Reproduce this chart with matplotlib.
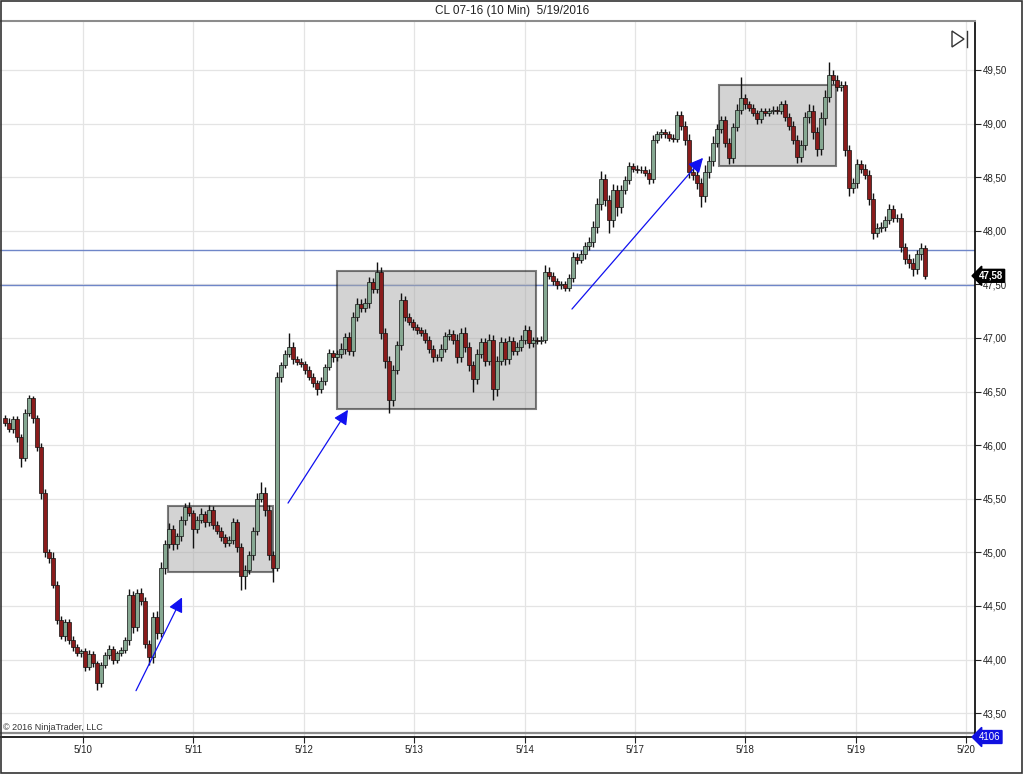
#!/usr/bin/env python3

import matplotlib
matplotlib.use("Agg")
import matplotlib.pyplot as plt
import numpy as np
from matplotlib.patches import Rectangle, Polygon
from matplotlib.lines import Line2D
from matplotlib.transforms import blended_transform_factory

plt.rcParams['font.family'] = ['Liberation Sans', 'DejaVu Sans']

# 10 min CL closes, resampled by eye from the chart (one value per bar step)
closes = [
    46.21, 46.15, 46.24, 46.08, 45.88, 46.30, 46.44, 46.25, 45.98, 45.55,
    45.00, 44.95, 44.70, 44.37, 44.22, 44.35, 44.18, 44.12, 44.06, 44.08,
    43.93, 44.05, 43.97, 43.78, 43.95, 44.04, 44.10, 44.00, 44.06, 44.09,
    44.18, 44.60, 44.30, 44.62, 44.55, 44.15, 44.02, 44.40, 44.25, 44.85,
    45.08, 45.22, 45.08, 45.15, 45.30, 45.42, 45.37, 45.22, 45.30, 45.36,
    45.28, 45.40, 45.26, 45.20, 45.14, 45.09, 45.12, 45.28, 45.05, 44.78,
    44.84, 44.98, 45.20, 45.50, 45.55, 45.40, 44.98, 44.85, 46.64, 46.75,
    46.85, 46.92, 46.80, 46.78, 46.76, 46.70, 46.64, 46.58, 46.52, 46.60,
    46.73, 46.86, 46.82, 46.85, 46.90, 47.01, 46.88, 47.20, 47.32, 47.28,
    47.33, 47.52, 47.46, 47.62, 47.05, 46.79, 46.42, 46.70, 46.93, 47.35,
    47.20, 47.15, 47.10, 47.07, 47.05, 46.98, 46.90, 46.82, 46.82, 46.90,
    47.02, 47.04, 46.98, 46.82, 47.05, 46.92, 46.75, 46.62, 46.85, 46.96,
    46.79, 46.98, 46.52, 46.79, 46.96, 46.80, 46.97, 46.88, 46.92, 46.98,
    47.07, 46.95, 46.98, 46.97, 46.98, 47.62, 47.58, 47.53, 47.49, 47.50,
    47.47, 47.56, 47.76, 47.73, 47.78, 47.86, 47.90, 48.04, 48.25, 48.48,
    48.29, 48.10, 48.38, 48.22, 48.38, 48.47, 48.60, 48.58, 48.57, 48.57,
    48.54, 48.48, 48.85, 48.90, 48.92, 48.90, 48.87, 48.86, 49.08, 48.98,
    48.85, 48.55, 48.52, 48.45, 48.32, 48.55, 48.65, 48.82, 48.95, 49.03,
    48.82, 48.68, 48.97, 49.13, 49.24, 49.18, 49.15, 49.10, 49.04, 49.12,
    49.10, 49.12, 49.13, 49.12, 49.18, 49.06, 48.98, 48.85, 48.69, 48.80,
    49.06, 49.12, 48.92, 48.76, 49.05, 49.25, 49.45, 49.41, 49.34, 49.36,
    48.75, 48.40, 48.45, 48.62, 48.58, 48.52, 48.30, 47.98, 48.03, 48.04,
    48.10, 48.20, 48.12, 48.12, 47.85, 47.74, 47.70, 47.64, 47.78, 47.84,
    47.58,
]
# wick lengths above / below the body, in cents
upper_wick = [
    3, 4, 3, 3, 2, 4, 3, 2, 3, 4,
    4, 3, 5, 3, 4, 3, 3, 4, 3, 2,
    3, 4, 3, 2, 3, 3, 4, 3, 2, 3,
    3, 6, 4, 4, 5, 3, 3, 4, 5, 6,
    4, 5, 4, 3, 4, 4, 5, 3, 4, 5,
    3, 4, 3, 3, 4, 3, 3, 4, 3, 4,
    4, 3, 4, 5, 11, 6, 4, 3, 4, 3,
    4, 13, 4, 3, 3, 3, 4, 3, 3, 4,
    3, 4, 3, 4, 5, 4, 5, 4, 5, 4,
    4, 5, 4, 9, 4, 4, 4, 5, 4, 7,
    4, 3, 3, 3, 3, 3, 4, 3, 3, 4,
    4, 4, 3, 6, 4, 5, 4, 4, 5, 4,
    4, 6, 5, 4, 5, 4, 5, 4, 4, 5,
    5, 4, 3, 3, 4, 6, 4, 4, 3, 3,
    3, 4, 4, 3, 4, 4, 4, 5, 6, 8,
    5, 4, 6, 5, 5, 4, 4, 3, 3, 3,
    3, 4, 4, 3, 3, 3, 3, 3, 4, 4,
    4, 5, 4, 5, 4, 6, 5, 6, 5, 4,
    4, 5, 4, 5, 19, 4, 3, 3, 3, 3,
    3, 3, 3, 3, 3, 4, 4, 4, 4, 5,
    5, 6, 5, 5, 6, 6, 12, 5, 4, 4,
    4, 5, 4, 5, 4, 4, 5, 5, 4, 4,
    4, 5, 4, 4, 5, 4, 4, 5, 4, 5,
    3,
]
lower_wick = [
    3, 3, 4, 5, 8, 3, 3, 4, 3, 5,
    4, 5, 3, 4, 3, 5, 3, 4, 3, 4,
    4, 3, 4, 6, 4, 3, 3, 4, 3, 3,
    3, 4, 5, 3, 4, 4, 7, 5, 6, 4,
    5, 4, 6, 5, 4, 4, 3, 18, 4, 3,
    4, 3, 4, 3, 3, 4, 3, 4, 5, 13,
    12, 4, 5, 4, 3, 6, 5, 13, 2, 5,
    3, 3, 4, 3, 3, 4, 3, 4, 5, 3,
    4, 3, 4, 3, 4, 5, 4, 5, 4, 4,
    4, 5, 4, 4, 6, 7, 12, 5, 4, 4,
    4, 3, 3, 3, 3, 3, 4, 4, 3, 3,
    3, 4, 4, 5, 4, 5, 6, 12, 5, 4,
    5, 4, 10, 6, 4, 5, 4, 4, 4, 4,
    4, 4, 3, 3, 3, 3, 3, 4, 3, 3,
    3, 3, 4, 4, 3, 4, 4, 5, 6, 6,
    6, 12, 6, 8, 5, 4, 3, 3, 3, 3,
    3, 4, 3, 3, 3, 3, 3, 3, 3, 4,
    5, 6, 5, 6, 10, 5, 6, 5, 4, 4,
    4, 6, 5, 4, 4, 4, 3, 3, 4, 3,
    3, 3, 3, 3, 3, 4, 4, 4, 6, 5,
    5, 5, 6, 6, 5, 6, 5, 4, 4, 4,
    5, 8, 5, 5, 4, 4, 6, 6, 4, 4,
    4, 4, 4, 4, 5, 5, 5, 6, 4, 5,
    3,
]
first_open = 46.25
bar_start = -0.7065      # trading days from 5/10
bar_step = 0.03623       # trading days per bar

date_labels = ['5/10', '5/11', '5/12', '5/13', '5/14', '5/17', '5/18', '5/19', '5/20']

# consolidation boxes: (start day, end day, low, high)
zones = [
    (0.770, 1.721, 44.82, 45.43),
    (2.300, 4.104, 46.34, 47.625),
    (5.761, 6.821, 48.60, 49.36),
]
# arrows: (day0, price0, day1, price1)
arrows = [
    (0.480, 43.71, 0.897, 44.58),
    (1.857, 45.46, 2.400, 46.33),
    (4.429, 47.27, 5.616, 48.68),
]
hlines = [47.82, 47.49]
last_price = 47.58
volume_last = 4106

fig = plt.figure(figsize=(10.24, 7.75), dpi=100)
ax = fig.add_axes([0.0, 1 - 737 / 775, 975 / 1024, (737 - 21) / 775])

c = np.array(closes)
o = np.concatenate([[first_open], c[:-1]])
x = bar_start + bar_step * np.arange(len(c))
hi = np.maximum(o, c) + np.array(upper_wick) / 100
lo = np.minimum(o, c) - np.array(lower_wick) / 100
up = c >= o
colors = np.where(up, '#86a892', '#8a1c1c')
ax.vlines(x, lo, hi, color='#111111', lw=1.0, zorder=2.6)
ax.bar(x, c - o, bottom=o, width=bar_step * 0.95, color=colors,
       edgecolor='#111111', linewidth=0.5, zorder=3)

for d0, d1, lo_, hi_ in zones:
    ax.add_patch(Rectangle((d0, lo_), d1 - d0, hi_ - lo_, facecolor='#a8a8a8', alpha=0.5,
                           edgecolor='black', linewidth=1.5, zorder=2))

for d0, p0, d1, p1 in arrows:
    ax.annotate('', xy=(d1, p1), xytext=(d0, p0),
                arrowprops=dict(arrowstyle='-|>', color='#1010f0', lw=0.9,
                                mutation_scale=22, shrinkA=0, shrinkB=0), zorder=4)

for h in hlines:
    ax.axhline(h, color='#6f86c8', lw=1.0, zorder=1)

ax.set_xlim(-0.752, 8.080)
ax.set_ylim(43.278, 49.957)
ax.set_xticks(range(len(date_labels)))
ax.set_xticklabels(date_labels)
yt = np.arange(43.5, 49.51, 0.5)
ax.set_yticks(yt)
ax.set_yticklabels([f"{v:.2f}".replace('.', ',') for v in yt])
ax.yaxis.tick_right()
ax.tick_params(axis='both', labelsize=7, length=4, width=0.8, colors='#222222', pad=1.5)
ax.grid(True, color='#e4e4e4', lw=0.9, zorder=0)
ax.set_axisbelow(True)

ax.spines['left'].set_visible(False)
ax.spines['top'].set_color('#8c8c8c')
ax.spines['top'].set_linewidth(1.5)
ax.spines['right'].set_linewidth(1.2)
ax.spines['bottom'].set_linewidth(1.2)

# empty volume strip
ax.axhline(43.315, color='#8c8c8c', lw=1.6, zorder=1)

tr = blended_transform_factory(ax.transAxes, ax.transData)
ax.text(1.004, last_price, f"{last_price:.2f}".replace('.', ','), transform=tr,
        color='white', fontsize=7, fontweight='bold', va='center', ha='left',
        bbox=dict(boxstyle='larrow,pad=0.15', fc='black', ec='black'), zorder=6)
ax.text(1.004, 43.278, str(volume_last), transform=tr,
        color='white', fontsize=7, va='center', ha='left',
        bbox=dict(boxstyle='larrow,pad=0.15', fc='#1010e0', ec='#1010e0'), zorder=6)

ax.text(0.003, 43.32, '© 2016 NinjaTrader, LLC', transform=tr, fontsize=6.5,
        color='#333333', va='bottom', ha='left')

fig.text(0.5, 1 - 11 / 775, 'CL 07-16 (10 Min)  5/19/2016', ha='center', va='center',
         fontsize=8.5, color='#222222')

# scroll-to-end icon
W, H = 1024, 775
tri = Polygon([(952 / W, 1 - 31 / H), (952 / W, 1 - 47 / H), (964 / W, 1 - 39 / H)],
              closed=True, fill=False, edgecolor='#333333', lw=1.0, transform=fig.transFigure)
fig.add_artist(tri)
fig.add_artist(Line2D([967 / W, 967 / W], [1 - 31 / H, 1 - 47 / H], color='#333333',
                      lw=1.0, transform=fig.transFigure))

# outer frame
fig.add_artist(Rectangle((0.0005, 0.002), 0.998, 0.997, fill=False, edgecolor='#333333',
                         lw=1.2, transform=fig.transFigure))

fig.savefig('out.png', dpi=100)
